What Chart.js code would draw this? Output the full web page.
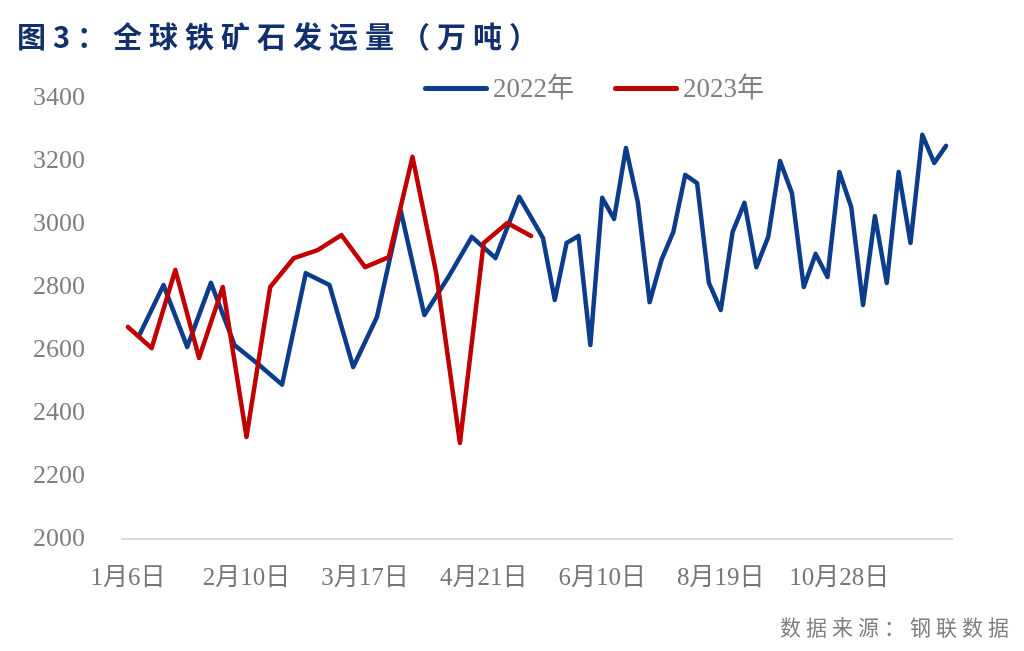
<!DOCTYPE html>
<html>
<head>
<meta charset="utf-8">
<script src="https://cdn.jsdelivr.net/npm/chart.js@4"></script>
<style>
  html, body { margin: 0; padding: 0; background: #fff; }
  #wrap { position: relative; width: 1024px; height: 651px; overflow: hidden; }
  #chartBox { position: absolute; left: 0; top: 0; width: 1024px; height: 651px; }
  #title { position: absolute; left: 17px; top: 14px; font-family: 'Noto Sans CJK SC', sans-serif;
           font-weight: 700; font-size: 29px; letter-spacing: 7px; color: #11306e; white-space: nowrap; }
  .leg { position: absolute; top: 72px; height: 32px; font-family: 'Liberation Serif', 'Noto Sans CJK SC', serif;
         font-size: 27px; color: #808080; line-height: 32px; white-space: nowrap; }
  .leg span.ln { display: inline-block; width: 66px; height: 5px; border-radius: 3px; vertical-align: middle;
                 margin-right: 4px; position: relative; top: -2px; }
  #source { position: absolute; right: 10px; top: 611px; font-family: 'Noto Sans CJK SC', sans-serif;
            font-size: 21px; letter-spacing: 5px; color: #7f7f7f; white-space: nowrap; }
</style>
</head>
<body>
<div id="wrap">
  <div id="chartBox"><canvas id="lineChart"></canvas></div>
  <div id="title">图3：全球铁矿石发运量（万吨）</div>
  <div class="leg" style="left:423px"><span class="ln" style="background:#0b3d8c"></span>2022年</div>
  <div class="leg" style="left:613px"><span class="ln" style="background:#c00000"></span>2023年</div>
  <div id="source">数据来源：钢联数据</div>
</div>
<script>
// x axis: dates of both years merged by month/day
var categories = ['1月6日','1月7日','1月13日','1月14日','1月20日','1月21日','1月27日','1月28日',
  '2月3日','2月4日','2月10日','2月11日','2月17日','2月18日','2月24日','2月25日',
  '3月3日','3月4日','3月10日','3月11日','3月17日','3月18日','3月24日','3月25日','3月31日',
  '4月1日','4月7日','4月8日','4月14日','4月15日','4月21日','4月22日','4月28日','4月29日',
  '5月5日','5月6日','5月13日','5月20日','5月27日','6月3日','6月10日','6月17日','6月24日',
  '7月1日','7月8日','7月15日','7月22日','7月29日','8月5日','8月12日','8月19日','8月26日',
  '9月2日','9月9日','9月16日','9月23日','9月30日','10月7日','10月14日','10月21日','10月28日',
  '11月4日','11月11日','11月18日','11月25日','12月2日','12月9日','12月16日','12月23日','12月30日'];

var tickLabels = ['1月6日','2月10日','3月17日','4月21日','6月10日','8月19日','10月28日'];

var dates2022 = ['1月7日','1月14日','1月21日','1月28日','2月4日','2月11日','2月18日','2月25日',
  '3月4日','3月11日','3月18日','3月25日','4月1日','4月8日','4月15日','4月22日','4月29日',
  '5月6日','5月13日','5月20日','5月27日','6月3日','6月10日','6月17日','6月24日',
  '7月1日','7月8日','7月15日','7月22日','7月29日','8月5日','8月12日','8月19日','8月26日',
  '9月2日','9月9日','9月16日','9月23日','9月30日','10月7日','10月14日','10月21日','10月28日',
  '11月4日','11月11日','11月18日','11月25日','12月2日','12月9日','12月16日','12月23日','12月30日'];
var values2022 = [2650, 2806, 2610, 2813, 2615, 2555, 2490, 2844, 2806, 2546, 2705, 3044, 2711, 2830,
  2959, 2892, 3086, 2956, 2759, 2940, 2962, 2616, 3083, 3016, 3241, 3070, 2752, 2886, 2975, 3156,
  3130, 2813, 2727, 2975, 3067, 2863, 2959, 3200, 3098, 2800, 2905, 2832, 3165, 3054, 2743, 3025,
  2813, 3165, 2940, 3283, 3194, 3248];

var dates2023 = ['1月6日','1月13日','1月20日','1月27日','2月3日','2月10日','2月17日','2月24日',
  '3月3日','3月10日','3月17日','3月24日','3月31日','4月7日','4月14日','4月21日','4月28日','5月5日'];
var values2023 = [2673, 2606, 2854, 2575, 2800, 2324, 2800, 2892, 2917, 2965, 2863, 2895, 3213,
  2844, 2305, 2940, 3003, 2962];

var yTicks = { min: 2000, max: 3400, step: 200 };

function pairUp(dates, vals) {
    return dates.map(function (d, i) { return { x: d, y: vals[i] }; });
}

var ctx = document.getElementById('lineChart').getContext('2d');
var myChart = new Chart(ctx, {
    type: 'line',
    data: {
        labels: categories,
        datasets: [{
            label: '2023年',
            data: pairUp(dates2023, values2023),
            borderColor: '#c00000',
            borderWidth: 4.5
        }, {
            label: '2022年',
            data: pairUp(dates2022, values2022),
            borderColor: '#0b3d8c',
            borderWidth: 4.5
        }]
    },
    options: {
        responsive: true,
        maintainAspectRatio: false,
        animation: false,
        spanGaps: true,
        elements: {
            point: { radius: 0, hoverRadius: 0 },
            line: { tension: 0, borderJoinStyle: 'round', borderCapStyle: 'round' }
        },
        layout: { padding: { left: 0, right: 72, top: 98, bottom: 0 } },
        plugins: { legend: { display: false }, tooltip: { enabled: false } },
        scales: {
            x: {
                type: 'category',
                offset: true,
                grid: { display: false, drawTicks: false },
                border: { display: true, color: '#d9d9d9', width: 2 },
                afterFit: function (s) { s.height = 112; },
                ticks: {
                    autoSkip: false,
                    maxRotation: 0,
                    padding: 24,
                    color: '#767676',
                    font: { family: "'Liberation Serif', 'Noto Sans CJK SC', serif", size: 25 },
                    callback: function (v, i) {
                        var lab = categories[i];
                        return tickLabels.indexOf(lab) >= 0 ? lab : '';
                    }
                }
            },
            y: {
                min: yTicks.min,
                max: yTicks.max,
                grid: { display: false, drawTicks: false },
                border: { display: false },
                afterFit: function (s) { s.width = 122; },
                ticks: {
                    stepSize: yTicks.step,
                    padding: 37,
                    color: '#7f7f7f',
                    font: { family: "'Liberation Serif', serif", size: 26 },
                    callback: function (v) { return String(v); }
                }
            }
        }
    }
});
</script>
</body>
</html>
